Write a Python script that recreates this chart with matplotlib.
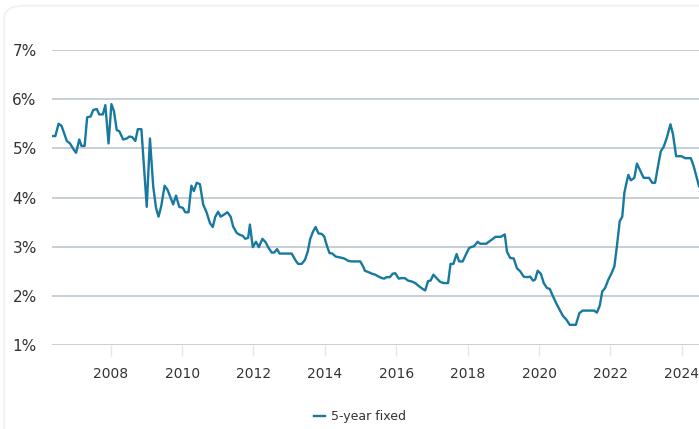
import matplotlib
matplotlib.use("Agg")
import matplotlib.pyplot as plt
from matplotlib.patches import FancyBboxPatch

# 5-year fixed rate (decimal year, %)
years = [2006.38, 2006.45, 2006.54, 2006.62, 2006.69, 2006.77, 2006.86, 2006.95,
         2007.03, 2007.12, 2007.18, 2007.27, 2007.34, 2007.44, 2007.51, 2007.61,
         2007.68, 2007.78, 2007.85, 2007.94, 2008.02, 2008.09, 2008.17, 2008.24,
         2008.35, 2008.45, 2008.52, 2008.60, 2008.69, 2008.76, 2008.86, 2009.01,
         2009.10, 2009.19, 2009.27, 2009.34, 2009.42, 2009.51, 2009.59, 2009.68,
         2009.75, 2009.83, 2009.92, 2010.02, 2010.09, 2010.18, 2010.26, 2010.33,
         2010.41, 2010.50, 2010.59, 2010.69, 2010.78, 2010.86, 2010.93, 2011.01,
         2011.08, 2011.17, 2011.27, 2011.36, 2011.43, 2011.53, 2011.62, 2011.70,
         2011.77, 2011.85, 2011.90, 2011.98, 2012.07, 2012.15, 2012.25, 2012.34,
         2012.41, 2012.51, 2012.58, 2012.66, 2012.73, 2013.07, 2013.18, 2013.25,
         2013.35, 2013.44, 2013.52, 2013.59, 2013.67, 2013.74, 2013.82, 2013.91,
         2013.98, 2014.06, 2014.13, 2014.21, 2014.30, 2014.43, 2014.54, 2014.66,
         2014.75, 2014.99, 2015.07, 2015.12, 2015.23, 2015.32, 2015.41, 2015.51,
         2015.60, 2015.66, 2015.73, 2015.82, 2015.90, 2015.97, 2016.07, 2016.14,
         2016.24, 2016.33, 2016.44, 2016.53, 2016.63, 2016.72, 2016.81, 2016.89,
         2016.96, 2017.04, 2017.13, 2017.22, 2017.32, 2017.45, 2017.52, 2017.60,
         2017.69, 2017.76, 2017.86, 2017.95, 2018.04, 2018.09, 2018.18, 2018.28,
         2018.35, 2018.52, 2018.65, 2018.78, 2018.93, 2019.04, 2019.10, 2019.19,
         2019.29, 2019.38, 2019.47, 2019.57, 2019.66, 2019.75, 2019.83, 2019.89,
         2019.96, 2020.05, 2020.13, 2020.22, 2020.30, 2020.39, 2020.48, 2020.58,
         2020.67, 2020.76, 2020.86, 2021.03, 2021.13, 2021.22, 2021.54, 2021.62,
         2021.70, 2021.77, 2021.85, 2021.94, 2022.03, 2022.11, 2022.18, 2022.26,
         2022.33, 2022.39, 2022.44, 2022.50, 2022.57, 2022.67, 2022.74, 2022.82,
         2022.93, 2023.08, 2023.17, 2023.25, 2023.34, 2023.41, 2023.49, 2023.58,
         2023.68, 2023.75, 2023.84, 2023.99, 2024.09, 2024.25, 2024.33, 2024.48]
rates = [5.25, 5.25, 5.50, 5.46, 5.32, 5.15, 5.10, 4.99,
         4.91, 5.18, 5.05, 5.05, 5.63, 5.65, 5.78, 5.80,
         5.69, 5.69, 5.88, 5.10, 5.90, 5.76, 5.37, 5.35,
         5.18, 5.20, 5.24, 5.23, 5.15, 5.39, 5.39, 3.81,
         5.20, 4.23, 3.79, 3.61, 3.84, 4.24, 4.16, 3.99,
         3.86, 4.04, 3.81, 3.79, 3.70, 3.70, 4.24, 4.13,
         4.30, 4.27, 3.86, 3.69, 3.48, 3.40, 3.61, 3.71,
         3.61, 3.65, 3.70, 3.61, 3.41, 3.28, 3.24, 3.22,
         3.16, 3.18, 3.45, 2.99, 3.10, 2.99, 3.16, 3.09,
         2.99, 2.88, 2.88, 2.95, 2.86, 2.86, 2.72, 2.65,
         2.65, 2.73, 2.90, 3.16, 3.31, 3.40, 3.27, 3.26,
         3.21, 3.01, 2.87, 2.86, 2.80, 2.78, 2.76, 2.71,
         2.70, 2.70, 2.60, 2.51, 2.48, 2.45, 2.43, 2.39,
         2.36, 2.35, 2.38, 2.38, 2.45, 2.46, 2.35, 2.36,
         2.36, 2.31, 2.29, 2.26, 2.20, 2.15, 2.11, 2.30,
         2.31, 2.43, 2.36, 2.29, 2.26, 2.26, 2.65, 2.65,
         2.85, 2.70, 2.70, 2.84, 2.97, 2.99, 3.01, 3.10,
         3.06, 3.06, 3.13, 3.20, 3.20, 3.25, 2.90, 2.77,
         2.76, 2.56, 2.50, 2.39, 2.38, 2.39, 2.31, 2.33,
         2.51, 2.45, 2.26, 2.16, 2.14, 1.99, 1.85, 1.71,
         1.59, 1.52, 1.41, 1.41, 1.65, 1.70, 1.70, 1.66,
         1.80, 2.09, 2.16, 2.33, 2.46, 2.60, 3.01, 3.52,
         3.61, 4.10, 4.27, 4.46, 4.35, 4.40, 4.69, 4.57,
         4.40, 4.40, 4.30, 4.30, 4.67, 4.94, 5.03, 5.22,
         5.49, 5.29, 4.84, 4.84, 4.80, 4.80, 4.64, 4.23]

year_ticks = [2008, 2010, 2012, 2014, 2016, 2018, 2020, 2022, 2024]
pct_ticks = [1, 2, 3, 4, 5, 6, 7]
series_name = "5-year fixed"

line_color = "#17799f"
grid_color = "#c3ccd3"
text_color = "#333333"

fig = plt.figure(figsize=(6.99, 4.29), dpi=100)

# light rounded card behind the chart
card = FancyBboxPatch((0.006, -0.05), 1.05, 1.037,
                      boxstyle="round,pad=0,rounding_size=0.03",
                      transform=fig.transFigure, facecolor="white",
                      edgecolor="#edf1f2", linewidth=1.2, zorder=-5)
fig.patches.append(card)

ax = fig.add_axes([0.0744, 0.1958, 0.9256, 0.6876])
ax.set_zorder(2)
ax.set_facecolor("none")
ax.plot(years, rates, color=line_color, linewidth=1.7, label=series_name, zorder=3)

ax.set_xlim(2006.356, 2024.48)
ax.set_ylim(1, 7)
ax.set_yticks(pct_ticks)
ax.set_yticklabels([f"{p}%" for p in pct_ticks])
ax.set_xticks(year_ticks)
ax.set_xticklabels([str(y) for y in year_ticks])

for s in ax.spines.values():
    s.set_visible(False)
ax.grid(axis="y", color=grid_color, linewidth=1.3)
ax.set_axisbelow(True)
ax.tick_params(axis="y", length=0, pad=11, labelsize=11, labelcolor=text_color)
ax.tick_params(axis="x", length=8, width=1, color="#e3e8ec", pad=8,
               labelsize=10, labelcolor=text_color)

leg = fig.legend(loc="center", bbox_to_anchor=(0.515, 0.028), frameon=False,
                 handlelength=0.9, handletextpad=0.5, fontsize=9)
for t in leg.get_texts():
    t.set_color(text_color)

fig.savefig("out.png", dpi=100)
